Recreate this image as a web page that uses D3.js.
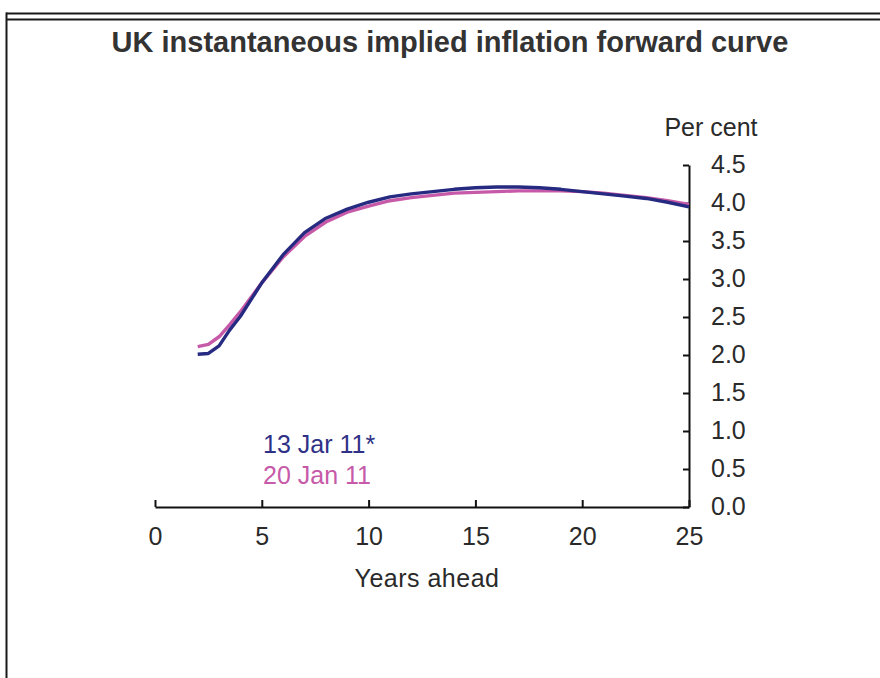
<!DOCTYPE html>
<html>
<head>
  <meta charset="utf-8">
  <title>UK instantaneous implied inflation forward curve</title>
  <script src="https://d3js.org/d3.v7.min.js"></script>
  <style>
    body {
      margin: 0;
      background: #fff;
    }
    .tick text {
      font-family: "Liberation Sans", Arial, sans-serif;
      font-size: 25px;
      fill: #2a2a2a;
    }
    .axis path, .axis line {
      stroke: #111;
      stroke-width: 2px;
    }
    .lbl {
      font-family: "Liberation Sans", Arial, sans-serif;
      font-size: 25px;
      fill: #2a2a2a;
    }
  </style>
</head>
<body>
  <div id="chart"></div>
  <script>
    // years ahead
    var years = [2, 2.5, 3, 3.5, 4, 5, 6, 7, 8, 9, 10, 11, 12, 13, 14, 15, 16, 17, 18, 19, 20, 21, 22, 23, 24, 25];
    // 13 Jan 11 curve (per cent)
    var jan13 = [2.01, 2.02, 2.12, 2.33, 2.51, 2.95, 3.32, 3.61, 3.80, 3.92, 4.01, 4.08, 4.12, 4.15, 4.18, 4.20, 4.21, 4.21, 4.20, 4.18, 4.15, 4.12, 4.09, 4.06, 4.01, 3.95];
    // 20 Jan 11 curve (per cent)
    var jan20 = [2.11, 2.14, 2.24, 2.40, 2.57, 2.95, 3.29, 3.56, 3.75, 3.88, 3.96, 4.03, 4.07, 4.10, 4.13, 4.14, 4.15, 4.16, 4.16, 4.16, 4.15, 4.13, 4.10, 4.07, 4.03, 3.98];
    var xTicks = [0, 5, 10, 15, 20, 25];
    var yTicks = [0, 0.5, 1, 1.5, 2, 2.5, 3, 3.5, 4, 4.5];

    var svg = d3.select("#chart")
      .append("svg")
      .attr("width", 880)
      .attr("height", 678);

    // frame: double rule on top, single on the left
    svg.append("line").attr("x1", 6).attr("x2", 880).attr("y1", 13.5).attr("y2", 13.5)
      .style("stroke", "#1a1a1a").style("stroke-width", 2);
    svg.append("line").attr("x1", 6).attr("x2", 880).attr("y1", 19.5).attr("y2", 19.5)
      .style("stroke", "#1a1a1a").style("stroke-width", 2);
    svg.append("line").attr("x1", 6.5).attr("x2", 6.5).attr("y1", 12.5).attr("y2", 678)
      .style("stroke", "#1a1a1a").style("stroke-width", 2);

    // title
    svg.append("text")
      .attr("x", 450)
      .attr("y", 52)
      .attr("text-anchor", "middle")
      .style("font-family", "Liberation Sans, Arial, sans-serif")
      .style("font-weight", "bold")
      .style("font-size", "29px")
      .style("fill", "#333")
      .text("UK instantaneous implied inflation forward curve");

    var x = d3.scaleLinear().domain([0, 25]).range([155, 689]);
    var y = d3.scaleLinear().domain([0, 4.5]).range([507, 165]);

    // x axis, ticks pointing up
    svg.append("g")
      .attr("class", "axis")
      .attr("transform", "translate(0," + y(0) + ")")
      .call(d3.axisBottom(x).tickValues(xTicks).tickFormat(d3.format("d"))
        .tickSizeInner(-7).tickSizeOuter(0).tickPadding(20));

    // y axis on the right, ticks pointing left, labels on the right
    var yAxis = svg.append("g")
      .attr("class", "axis")
      .attr("transform", "translate(" + x(25) + ",0)")
      .call(d3.axisRight(y).tickValues(yTicks).tickFormat(d3.format(".1f"))
        .tickSizeInner(-6).tickSizeOuter(0).tickPadding(22));
    yAxis.selectAll(".tick text").attr("dy", "0.3em");

    // axis titles
    svg.append("text")
      .attr("class", "lbl")
      .attr("x", 711)
      .attr("y", 136)
      .attr("text-anchor", "middle")
      .text("Per cent");

    svg.append("text")
      .attr("class", "lbl")
      .attr("x", 427)
      .attr("y", 587)
      .attr("text-anchor", "middle")
      .style("letter-spacing", "0.5px")
      .text("Years ahead");

    var line = d3.line()
      .x(function(d) { return x(d.year); })
      .y(function(d) { return y(d.value); });

    var series = [
      { name: "20 Jan 11", values: jan20, color: "#c75aa8" },
      { name: "13 Jar 11*", values: jan13, color: "#262a80" }
    ];

    series.forEach(function(s) {
      var data = years.map(function(yr, i) { return { year: yr, value: s.values[i] }; });
      svg.append("path")
        .datum(data)
        .attr("d", line)
        .attr("fill", "none")
        .style("stroke", s.color)
        .style("stroke-width", 3.4)
        .style("stroke-linejoin", "round");
    });

    // legend labels
    svg.append("text")
      .attr("class", "lbl")
      .attr("x", 263)
      .attr("y", 453)
      .style("fill", "#2e3186")
      .text("13 Jar 11*");

    svg.append("text")
      .attr("class", "lbl")
      .attr("x", 263)
      .attr("y", 484)
      .style("fill", "#c65aa8")
      .text("20 Jan 11");
  </script>
</body>
</html>
